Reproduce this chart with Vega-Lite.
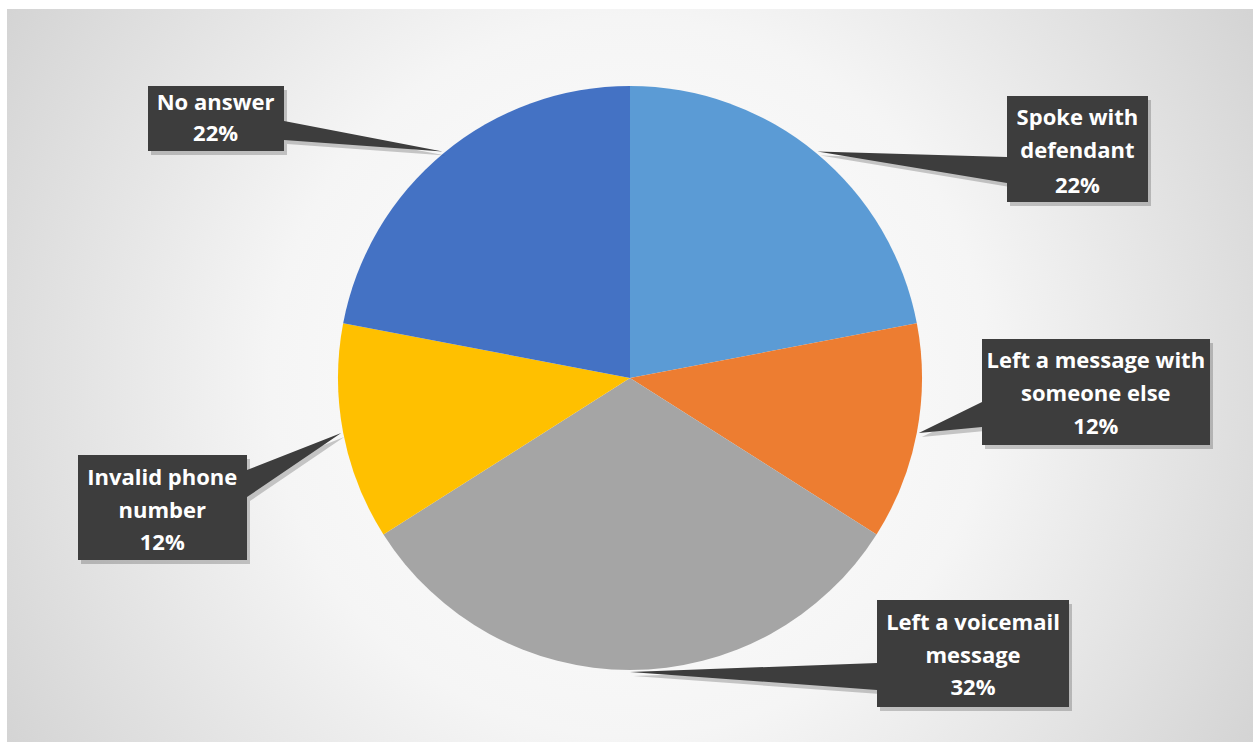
{
  "$schema": "https://vega.github.io/schema/vega-lite/v6.json",
  "autosize": {"type": "none"},
  "width": 1246,
  "height": 738,
  "padding": {"left": 7, "top": 9, "right": 0, "bottom": 0},
  "background": "white",
  "view": {"stroke": "#bdbdbd", "strokeWidth": 1},
  "datasets": {
    "calls": [
      {"category": "Spoke with defendant", "label": "Spoke with\ndefendant", "value": 0.22, "rank": 1},
      {"category": "Left a message with someone else", "label": "Left a message with\nsomeone else", "value": 0.12, "rank": 2},
      {"category": "Left a voicemail message", "label": "Left a voicemail\nmessage", "value": 0.32, "rank": 3},
      {"category": "Invalid phone number", "label": "Invalid phone\nnumber", "value": 0.12, "rank": 4},
      {"category": "No answer", "label": "No answer", "value": 0.22, "rank": 5}
    ],
    "frame": [{"name": "background"}]
  },
  "layer": [
    {
      "data": {"name": "frame"},
      "mark": {
        "type": "rect",
        "color": {
          "gradient": "radial",
          "x1": 0.5, "y1": 0.5, "r1": 0,
          "x2": 0.5, "y2": 0.5, "r2": 0.72,
          "stops": [
            {"offset": 0, "color": "#ffffff"},
            {"offset": 0.4, "color": "#f5f5f5"},
            {"offset": 1, "color": "#c4c4c4"}
          ]
        }
      },
      "encoding": {}
    },
    {
      "data": {"name": "calls"},
      "resolve": {"scale": {"shape": "independent"}},
      "layer": [
        {
          "mark": {"type": "arc", "radius": 292},
          "encoding": {
            "theta": {"field": "value", "type": "quantitative", "stack": true},
            "order": {"field": "rank", "type": "quantitative"},
            "color": {
              "field": "category", "type": "nominal", "legend": null,
              "scale": {
                "domain": ["Spoke with defendant", "Left a message with someone else", "Left a voicemail message", "Invalid phone number", "No answer"],
                "range": ["#5B9BD5", "#ED7D31", "#A5A5A5", "#FFC000", "#4472C4"]
              }
            }
          }
        },
        {
          "mark": {"type": "point", "filled": true, "fill": "#000000", "opacity": 0.2, "strokeWidth": 0, "size": 4000000},
          "encoding": {
            "shape": {
              "field": "category", "type": "nominal", "legend": null,
              "scale": {
                "domain": ["Spoke with defendant", "Left a message with someone else", "Left a voicemail message", "Invalid phone number", "No answer"],
                "range": [
                  "M0.380,-0.278H0.521V-0.172H0.380V-0.191L0.1904,-0.2225L0.380,-0.217Z",
                  "M0.355,-0.035H0.583V0.071H0.355V0.053L0.2918,0.0591L0.355,0.028Z",
                  "M0.250,0.226H0.442V0.333H0.250V0.316L0.003,0.298L0.250,0.289Z",
                  "M-0.549,0.081H-0.380V0.096L-0.2858,0.0591L-0.380,0.123V0.186H-0.549Z",
                  "M-0.479,-0.288H-0.343V-0.253L-0.1844,-0.2225L-0.343,-0.234V-0.223H-0.479Z"
                ]
              }
            }
          }
        },
        {
          "mark": {"type": "point", "filled": true, "fill": "#3d3d3d", "opacity": 1, "strokeWidth": 0, "size": 4000000},
          "encoding": {
            "shape": {
              "field": "category", "type": "nominal", "legend": null,
              "scale": {
                "domain": ["Spoke with defendant", "Left a message with someone else", "Left a voicemail message", "Invalid phone number", "No answer"],
                "range": [
                  "M0.377,-0.282H0.518V-0.176H0.377V-0.195L0.1874,-0.2265L0.377,-0.221Z",
                  "M0.352,-0.039H0.58V0.067H0.352V0.049L0.2888,0.0551L0.352,0.024Z",
                  "M0.247,0.222H0.439V0.329H0.247V0.312L0,0.294L0.247,0.285Z",
                  "M-0.552,0.077H-0.383V0.092L-0.2888,0.0551L-0.383,0.119V0.182H-0.552Z",
                  "M-0.482,-0.292H-0.346V-0.257L-0.1874,-0.2265L-0.346,-0.238V-0.227H-0.482Z"
                ]
              }
            }
          }
        },
        {
          "mark": {
            "type": "text", "radius": 294, "color": "white", "font": "Open Sans", "fontWeight": "bold", "fontSize": 22,
            "align": "center", "baseline": "middle", "lineBreak": "\n", "lineHeight": 33,
            "dx": {"expr": "datum.category === 'Spoke with defendant' ? 260 : datum.category === 'Left a message with someone else' ? 177 : datum.category === 'Left a voicemail message' ? 343 : datum.category === 'Invalid phone number' ? -179 : -227"},
            "dy": {"expr": "datum.category === 'Spoke with defendant' ? -33.5 : datum.category === 'Left a message with someone else' ? -72.1 : datum.category === 'Left a voicemail message' ? -49 : datum.category === 'Invalid phone number' ? 44.9 : -48.5"}
          },
          "encoding": {
            "theta": {"field": "value", "type": "quantitative", "stack": true},
            "order": {"field": "rank", "type": "quantitative"},
            "detail": {"field": "category", "type": "nominal"},
            "text": {"field": "label", "type": "nominal"}
          }
        },
        {
          "mark": {
            "type": "text", "radius": 294, "color": "white", "font": "Open Sans", "fontWeight": "bold", "fontSize": 22,
            "align": "center", "baseline": "middle",
            "dx": {"expr": "datum.category === 'Spoke with defendant' ? 260 : datum.category === 'Left a message with someone else' ? 177 : datum.category === 'Left a voicemail message' ? 343 : datum.category === 'Invalid phone number' ? -179 : -227"},
            "dy": {"expr": "datum.category === 'Spoke with defendant' ? 34.5 : datum.category === 'Left a message with someone else' ? -6.1 : datum.category === 'Left a voicemail message' ? 16 : datum.category === 'Invalid phone number' ? 109.9 : -17.5"}
          },
          "encoding": {
            "theta": {"field": "value", "type": "quantitative", "stack": true},
            "order": {"field": "rank", "type": "quantitative"},
            "detail": {"field": "category", "type": "nominal"},
            "text": {"field": "value", "type": "quantitative", "format": ".0%"}
          }
        }
      ]
    }
  ]
}
